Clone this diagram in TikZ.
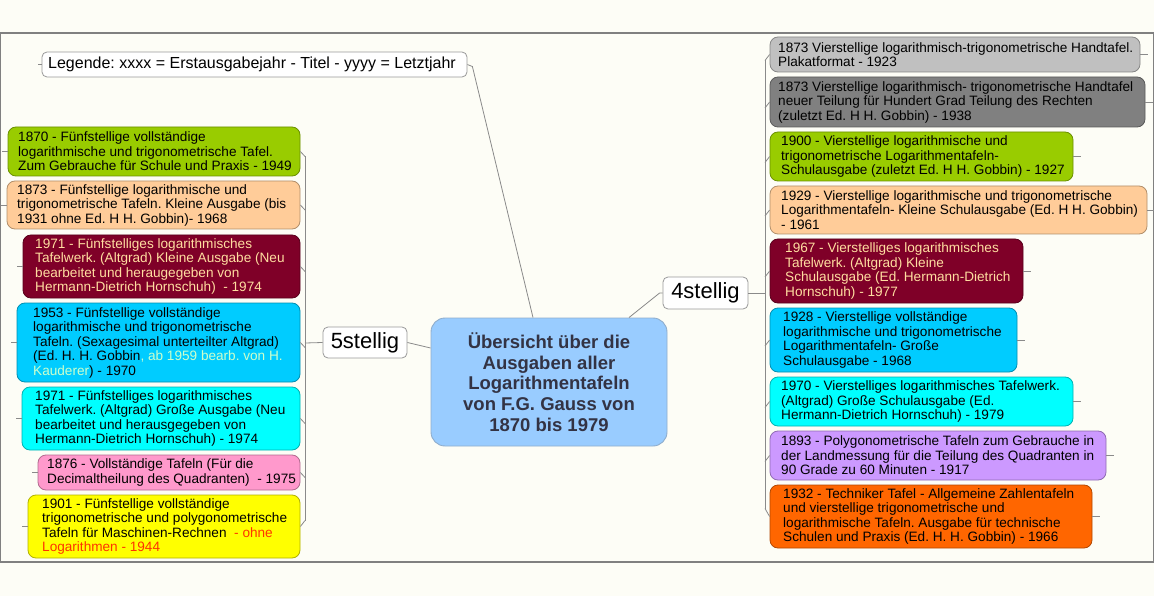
\documentclass[tikz,border=0pt]{standalone}
\usepackage{fontspec}
\setmainfont{Liberation Sans}
\usetikzlibrary{calc}
\frenchspacing
\definecolor{cBg}{HTML}{FDFDF6}
\definecolor{cFrame}{HTML}{808080}
\definecolor{cLine}{HTML}{8A8A8A}
\definecolor{cGreen}{HTML}{99CC00}
\definecolor{cPeach}{HTML}{FFCC99}
\definecolor{cMaroon}{HTML}{7F0028}
\definecolor{cBlue}{HTML}{00CCFF}
\definecolor{cCyan}{HTML}{00FFFF}
\definecolor{cPink}{HTML}{FF99CC}
\definecolor{cYellow}{HTML}{FFFF00}
\definecolor{cLGrey}{HTML}{C0C0C0}
\definecolor{cDGrey}{HTML}{808080}
\definecolor{cLav}{HTML}{CC99FF}
\definecolor{cOrange}{HTML}{FF6600}
\definecolor{cCentral}{HTML}{99CCFF}
\definecolor{cCText}{HTML}{333344}
\definecolor{cLightTxt}{HTML}{FFDDA0}
\definecolor{cPale}{HTML}{CCFFCC}
\definecolor{cRed}{HTML}{FF3300}
\newcommand\mmbox[9]{%
  \node[mmb, fill=#7, draw=#7!70!black, minimum width={#4-#2}, minimum height={#5-#3}] (#1) at ({(#2+#4)/2},{(#3+#5)/2}) {};
  \node[mmt, text=#8, anchor=west] (#1t) at (#6,{(#3+#5)/2}) {#9};}
\begin{document}
\begin{tikzpicture}[x=1pt,y=-1pt,
  mmb/.style={rectangle, rounded corners=8pt, line width=0.8pt, inner sep=0pt},
  mmt/.style={inner sep=0pt, align=left, font=\fontsize{13.6}{14.5}\selectfont\frenchspacing},
  conn/.style={draw=cLine, line width=0.8pt},
  topic/.style={rectangle, rounded corners=5pt, draw=gray!80, fill=white, line width=0.8pt, inner sep=0pt}]
\useasboundingbox (0,0) rectangle (1154,596);
\fill[cBg] (0,0) rectangle (1154,596);
\draw[cFrame, line width=1.2pt] (0.6,33) rectangle (1153.4,562);

% central topic
\node[rectangle, rounded corners=14pt, fill=cCentral, draw=cCentral!60!gray, line width=0.9pt,
  minimum width=236, minimum height=128, inner sep=0pt, align=center, text=cCText,
  font=\fontsize{18.5}{20.6}\selectfont\bfseries] (C) at (549,382)
  {Übersicht über die\\Ausgaben aller\\Logarithmentafeln\\von F.G. Gauss von\\1870 bis 1979};

% legend
\node[topic, minimum width=425, minimum height=25] (Leg) at (254.5,64.5) {};
\node[inner sep=0pt, anchor=west, font=\fontsize{16}{18}\selectfont] (Legt) at (48,64.5)
  {Legende: xxxx = Erstausgabejahr - Titel - yyyy = Letztjahr};

% main branches
\node[topic, minimum width=84, minimum height=31] (S5) at (365,342.5) {};
\node[inner sep=0pt, font=\fontsize{22}{25}\selectfont] (S5t) at (365,342.5) {5stellig};
\node[topic, minimum width=85, minimum height=32] (S4) at (705.5,293) {};
\node[inner sep=0pt, font=\fontsize{22}{25}\selectfont] (S4t) at (705.5,293) {4stellig};

% left boxes
\mmbox{L1}{8}{127}{300}{176}{18}{cGreen}{black}{1870 - Fünfstellige vollständige\\logarithmische und trigonometrische Tafel.\\Zum Gebrauche für Schule und Praxis - 1949}
\mmbox{L2}{7}{181}{300}{229}{17}{cPeach}{black}{1873 - Fünfstellige logarithmische und\\trigonometrische Tafeln. Kleine Ausgabe (bis\\1931 ohne Ed. H H. Gobbin)- 1968}
\mmbox{L3}{23}{235}{300}{298}{35}{cMaroon}{cLightTxt}{1971 - Fünfstelliges logarithmisches\\Tafelwerk. (Altgrad) Kleine Ausgabe (Neu\\bearbeitet und heraugegeben von\\Hermann-Dietrich Hornschuh)~ - 1974}
\mmbox{L4}{17}{303}{300}{382}{33}{cBlue}{black}{1953 - Fünfstellige vollständige\\logarithmische und trigonometrische\\Tafeln. (Sexagesimal unterteilter Altgrad)\\(Ed. H. H. Gobbin{\color{cPale}, ab 1959 bearb. von H.}\\{\color{cPale}Kauderer}) - 1970}
\mmbox{L5}{22}{387}{300}{450}{35}{cCyan}{black}{1971 - Fünfstelliges logarithmisches\\Tafelwerk. (Altgrad) Große Ausgabe (Neu\\bearbeitet und herausgegeben von\\Hermann-Dietrich Hornschuh) - 1974}
\mmbox{L6}{38}{455}{300}{490}{47}{cPink}{black}{1876 - Vollständige Tafeln (Für die\\Decimaltheilung des Quadranten)~ - 1975}
\mmbox{L7}{28}{495}{300}{558}{42}{cYellow}{black}{1901 - Fünfstellige vollständige\\trigonometrische und polygonometrische\\Tafeln für Maschinen-Rechnen {\color{cRed}~- ohne}\\{\color{cRed}Logarithmen - 1944}}

% right boxes
\mmbox{R1}{770}{37}{1140}{72}{778}{cLGrey}{black}{1873 Vierstellige logarithmisch-trigonometrische Handtafel.\\Plakatformat - 1923}
\mmbox{R2}{770}{77}{1145}{127}{778}{cDGrey}{black}{1873 Vierstellige logarithmisch- trigonometrische Handtafel\\neuer Teilung für Hundert Grad Teilung des Rechten\\(zuletzt Ed. H H. Gobbin) - 1938}
\mmbox{R3}{770}{132}{1073}{181}{781}{cGreen}{black}{1900 - Vierstellige logarithmische und\\trigonometrische Logarithmentafeln-\\Schulausgabe (zuletzt Ed. H H. Gobbin) - 1927}
\mmbox{R4}{770}{186}{1147}{234}{781}{cPeach}{black}{1929 - Vierstellige logarithmische und trigonometrische\\Logarithmentafeln- Kleine Schulausgabe (Ed. H H. Gobbin)\\- 1961}
\mmbox{R5}{770}{239}{1023}{303}{785}{cMaroon}{cLightTxt}{1967 - Vierstelliges logarithmisches\\Tafelwerk. (Altgrad) Kleine\\Schulausgabe (Ed. Hermann-Dietrich\\Hornschuh) - 1977}
\mmbox{R6}{770}{308}{1017}{372}{783}{cBlue}{black}{1928 - Vierstellige vollständige\\logarithmische und trigonometrische\\Logarithmentafeln- Große\\Schulausgabe - 1968}
\mmbox{R7}{770}{377}{1073}{426}{781}{cCyan}{black}{1970 - Vierstelliges logarithmisches Tafelwerk.\\(Altgrad) Große Schulausgabe (Ed.\\Hermann-Dietrich Hornschuh) - 1979}
\mmbox{R8}{770}{431}{1106}{480}{781}{cLav}{black}{1893 - Polygonometrische Tafeln zum Gebrauche in\\der Landmessung für die Teilung des Quadranten in\\90 Grade zu 60 Minuten - 1917}
\mmbox{R9}{770}{485}{1092}{548}{783}{cOrange}{black}{1932 - Techniker Tafel - Allgemeine Zahlentafeln\\und vierstellige trigonometrische und\\logarithmische Tafeln. Ausgabe für technische\\Schulen und Praxis (Ed. H. H. Gobbin) - 1966}

% connectors from central
\draw[conn] (Leg.east) -- ++(5,2) -- ([xshift=-16pt]C.north);
\draw[conn] ([xshift=80pt]C.north) -- ([xshift=-3pt]S4.west) -- (S4.west);
\draw[conn] (S5.east) -- ([yshift=34pt]C.west);
\draw[conn] (Leg.west) -- ++(-4,0);

% left bracket
\coordinate (LB) at (305,343);
\draw[conn] (S5.west) -- (LB);
\draw[conn] ([yshift=-5pt]L1.east -| LB) -- ([yshift=6pt]L7.east -| LB);
\foreach \n in {L1,L2,L3,L4,L5,L6} {
  \draw[conn] (\n.east) -- ([yshift=-5pt]\n.east -| LB);
  \draw[conn] (\n.west) -- ++(-6,0);
}
\draw[conn] (L7.east) -- ([yshift=6pt]L7.east -| LB);
\draw[conn] (L7.west) -- ++(-6,0);

% right bracket
\coordinate (RB) at (765,293);
\draw[conn] (S4.east) -- (RB);
\draw[conn] ([yshift=-6pt]R1.west -| RB) -- ([yshift=8pt]R9.west -| RB);
\foreach \n in {R1,R2,R3,R4,R5,R6,R7,R8} {
  \draw[conn] (\n.west) -- ([yshift=-6pt]\n.west -| RB);
  \draw[conn] (\n.east) -- ++(8,0);
}
\draw[conn] (R9.west) -- ([yshift=8pt]R9.west -| RB);
\draw[conn] (R9.east) -- ++(8,0);
\end{tikzpicture}
\end{document}
